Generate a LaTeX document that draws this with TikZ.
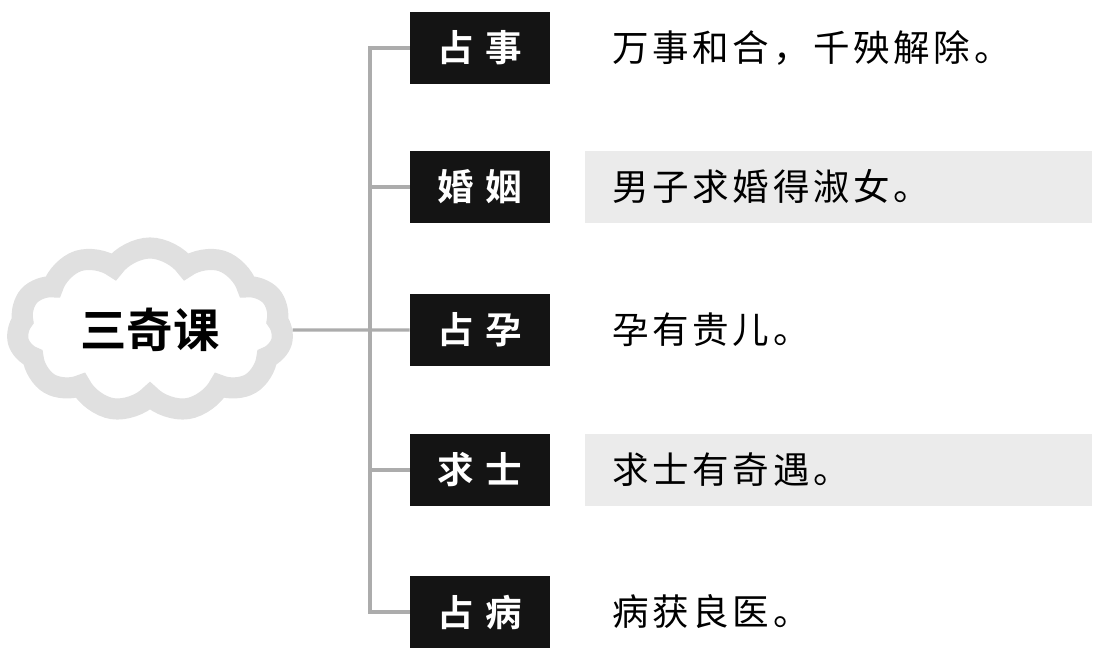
\documentclass[tikz,border=0pt]{standalone}
\usepackage{fontspec}
\newfontfamily\cjk[BoldFont={Noto Sans CJK SC Bold}]{Noto Sans CJK SC}
\newfontfamily\cjkwide[LetterSpace=10]{Noto Sans CJK SC}
\newfontfamily\cjkboldwide[LetterSpace=30]{Noto Sans CJK SC Bold}
\usepackage{tikz}
\usetikzlibrary{shapes.symbols,positioning}

\begin{document}
\begin{tikzpicture}[
  tag/.style={fill=black!92,text=white,minimum width=3.5cm,minimum height=1.8cm,inner sep=0pt,
    font=\cjkboldwide\fontsize{26}{30}\selectfont},
  says/.style={anchor=west,inner sep=0pt,font=\cjkwide\fontsize{26}{30}\selectfont},
  band/.style={fill=gray!16,minimum width=12.675cm,minimum height=1.8cm,inner sep=0pt,anchor=west},
  link/.style={draw=gray!65,line width=2.2pt}]
\useasboundingbox (0,0) rectangle (27.675,-16.725);
% title cloud
\node[cloud,cloud puffs=11,cloud puff arc=110,cloud ignores aspect,draw=gray!24,line width=15pt,fill=white,
  minimum width=6.65cm,minimum height=4.1cm,font=\cjk\bfseries\fontsize{33}{38}\selectfont] (cloud) at (3.75,-8.25) {三奇课};
% grey bands behind two rows
\node[band] (b2) at (14.625,-4.675) {};
\node[band] (b4) at (14.625,-11.75) {};
% tags
\node[tag] (t1) at (12,-1.2) {占事};
\node[tag] (t2) at (12,-4.675) {婚姻};
\node[tag] (t3) at (12,-8.25) {占孕};
\node[tag] (t4) at (12,-11.75) {求士};
\node[tag] (t5) at (12,-15.3) {占病};
% readings
\node[says] (s1) at (15.3,-1.2) {万事和合，千殃解除。};
\node[says] (s2) at (15.3,-4.675) {男子求婚得淑女。};
\node[says] (s3) at (15.3,-8.25) {孕有贵儿。};
\node[says] (s4) at (15.3,-11.75) {求士有奇遇。};
\node[says] (s5) at (15.3,-15.3) {病获良医。};
\coordinate (trunk) at (9.25,-8.25);
\draw[link] (cloud.east) -- (t3.west);
\foreach \n in {t1,t2,t4,t5} \draw[link] (trunk) |- (\n.west);
\end{tikzpicture}
\end{document}
